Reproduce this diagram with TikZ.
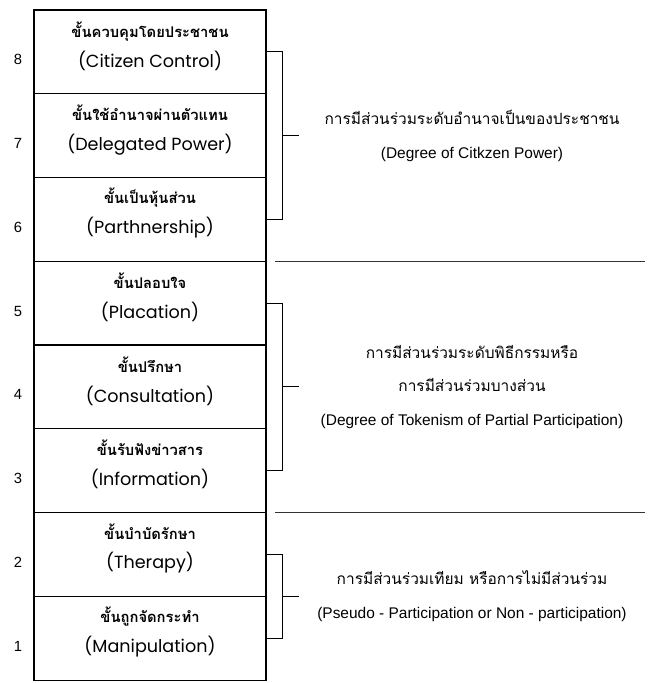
\documentclass[tikz,border=0pt]{standalone}
\usepackage{fontspec}
\setmainfont{Liberation Sans}
\newfontfamily\thaifont[Script=Thai]{Loma}
\newfontfamily\boxfont{Poppins}
\usetikzlibrary{positioning, calc}

\begin{document}
\begin{tikzpicture}[
	stepbox/.style={rectangle, draw, line width=.8pt, minimum width=5.8cm, minimum height=2.094cm, inner sep=0pt, outer sep=0pt},
	steptext/.style={align=center, font=\fontsize{10.5}{21.3}\selectfont},
	numtext/.style={font=\fontsize{10.5}{12}\selectfont},
	grouptext/.style={align=center, font=\fontsize{11}{24}\selectfont},
	bracket/.style={line width=.6pt},
	sepline/.style={line width=.6pt, black!80}
	]
	\useasboundingbox (0,0) rectangle (16.2,17.075);

	% the ladder
	\node[stepbox] (b8) at (3.75,15.778) {};
	\node[stepbox, below=0pt of b8] (b7) {};
	\node[stepbox, below=0pt of b7] (b6) {};
	\node[stepbox, below=0pt of b6] (b5) {};
	\node[stepbox, below=0pt of b5] (b4) {};
	\node[stepbox, below=0pt of b4] (b3) {};
	\node[stepbox, below=0pt of b3] (b2) {};
	\node[stepbox, below=0pt of b2] (b1) {};

	\node[steptext] (t8) at ([yshift=.15cm]b8.center) {{\thaifont\bfseries ขั้นควบคุมโดยประชาชน}\\{\boxfont\fontsize{12.5}{21.3}\selectfont (Citizen Control)}};
	\node[steptext] (t7) at ([yshift=.15cm]b7.center) {{\thaifont\bfseries ขั้นใช้อำนาจผ่านตัวแทน}\\{\boxfont\fontsize{12.5}{21.3}\selectfont (Delegated Power)}};
	\node[steptext] (t6) at ([yshift=.15cm]b6.center) {{\thaifont\bfseries ขั้นเป็นหุ้นส่วน}\\{\boxfont\fontsize{12.5}{21.3}\selectfont (Parthnership)}};
	\node[steptext] (t5) at ([yshift=.15cm]b5.center) {{\thaifont\bfseries ขั้นปลอบใจ}\\{\boxfont\fontsize{12.5}{21.3}\selectfont (Placation)}};
	\node[steptext] (t4) at ([yshift=.15cm]b4.center) {{\thaifont\bfseries ขั้นปรึกษา}\\{\boxfont\fontsize{12.5}{21.3}\selectfont (Consultation)}};
	\node[steptext] (t3) at ([yshift=.15cm]b3.center) {{\thaifont\bfseries ขั้นรับฟังข่าวสาร}\\{\boxfont\fontsize{12.5}{21.3}\selectfont (Information)}};
	\node[steptext] (t2) at ([yshift=.15cm]b2.center) {{\thaifont\bfseries ขั้นบำบัดรักษา}\\{\boxfont\fontsize{12.5}{21.3}\selectfont (Therapy)}};
	\node[steptext] (t1) at ([yshift=.15cm]b1.center) {{\thaifont\bfseries ขั้นถูกจัดกระทำ}\\{\boxfont\fontsize{12.5}{21.3}\selectfont (Manipulation)}};

	\node[numtext] (n8) at ([xshift=-.4cm, yshift=-.2cm]b8.west) {8};
	\node[numtext] (n7) at ([xshift=-.4cm, yshift=-.2cm]b7.west) {7};
	\node[numtext] (n6) at ([xshift=-.4cm, yshift=-.2cm]b6.west) {6};
	\node[numtext] (n5) at ([xshift=-.4cm, yshift=-.2cm]b5.west) {5};
	\node[numtext] (n4) at ([xshift=-.4cm, yshift=-.2cm]b4.west) {4};
	\node[numtext] (n3) at ([xshift=-.4cm, yshift=-.2cm]b3.west) {3};
	\node[numtext] (n2) at ([xshift=-.4cm, yshift=-.2cm]b2.west) {2};
	\node[numtext] (n1) at ([xshift=-.4cm, yshift=-.2cm]b1.west) {1};

	% brackets
	\draw[bracket] (b8.east) -- ++(.4,0) |- (b6.east);
	\coordinate (k1) at ($(b7.east)+(.4,0)$);
	\draw[bracket] (k1) -- ++(.425,0);
	\draw[bracket] (b5.east) -- ++(.4,0) |- (b3.east);
	\coordinate (k2) at ($(b4.east)+(.4,0)$);
	\draw[bracket] (k2) -- ++(.425,0);
	\draw[bracket] (b2.east) -- ++(.4,0) |- (b1.east);
	\coordinate (k3) at ($(b2.south east)+(.4,0)$);
	\draw[bracket] (k3) -- ++(.425,0);

	\draw[sepline] ([xshift=.225cm]b6.south east) -- ++(9.25,0);
	\draw[sepline] ([xshift=.225cm]b3.south east) -- ++(9.25,0);

	% groups
	\coordinate (gx) at (11.8,0);
	\node[grouptext] (g1) at (gx |- b7) {{\thaifont การมีส่วนร่วมระดับอำนาจเป็นของประชาชน}\\(Degree of Citkzen Power)};
	\node[grouptext] (g2) at (gx |- b4) {{\thaifont การมีส่วนร่วมระดับพิธีกรรมหรือ}\\{\thaifont การมีส่วนร่วมบางส่วน}\\(Degree of Tokenism of Partial Participation)};
	\node[grouptext] (g3) at (gx |- b2.south) {{\thaifont การมีส่วนร่วมเทียม หรือการไม่มีส่วนร่วม}\\(Pseudo - Participation or Non - participation)};
\end{tikzpicture}
\end{document}
